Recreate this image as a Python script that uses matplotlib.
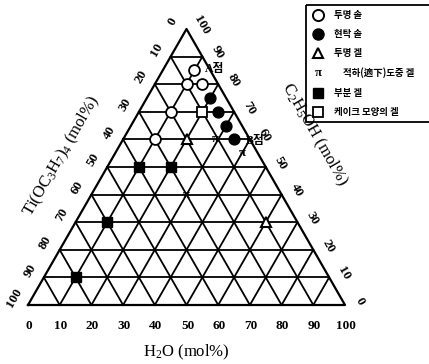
import matplotlib
matplotlib.use("Agg")
import matplotlib.pyplot as plt
from matplotlib.patches import Rectangle

plt.rcParams['mathtext.fontset'] = 'custom'
plt.rcParams['mathtext.rm'] = 'Liberation Serif'
plt.rcParams['mathtext.it'] = 'Liberation Serif'

# compositions in mol% : (C2H5OH, H2O), rest is Ti(OC3H7)4
sol_clear_etoh = [85, 80, 80, 70, 60]
sol_clear_water = [10, 15, 10, 10, 10]
sol_turbid_etoh = [75, 70, 65, 60]
sol_turbid_water = [20, 25, 30, 35]
gel_clear_etoh = [60, 30]
gel_clear_water = [20, 60]
gel_drop_etoh = [60, 55, 40]
gel_drop_water = [29, 40, 30]
gel_part_etoh = [50, 50, 30, 10]
gel_part_water = [10, 20, 10, 10]
gel_cake_etoh = [70]
gel_cake_water = [20]

ticks = [0, 10, 20, 30, 40, 50, 60, 70, 80, 90, 100]
legend_labels = ['투명 솔', '현탁 솔', '투명 겔', '적하(適下)도중 겔', '부분 겔', '케이크 모양의 겔']

# triangle frame in pixels
X0, Y0, W, H = 28, 305, 317, 276


def tern(etoh, water):
    xs = [X0 + W * (w + e / 2) / 100 for e, w in zip(etoh, water)]
    ys = [Y0 - H * e / 100 for e in etoh]
    return xs, ys


fig = plt.figure(figsize=(4.29, 3.64), dpi=100)
ax = fig.add_axes([0, 0, 1, 1])
ax.set_xlim(0, 429)
ax.set_ylim(364, 0)
ax.axis('off')

# grid
for v in ticks[1:-1]:
    for e, w in [([v, v], [0, 100 - v]), ([0, 100 - v], [v, v]), ([0, 100 - v], [100 - v, 0])]:
        xs, ys = tern(e, w)
        ax.plot(xs, ys, color='black', lw=1.3)
xs, ys = tern([0, 0, 100, 0], [0, 100, 0, 0])
ax.plot(xs, ys, color='black', lw=1.6)

serif = 'Liberation Serif'
# bottom ticks (H2O)
for t in ticks:
    xs, ys = tern([0], [t])
    ax.text(xs[0] + 1, 326, str(t), ha='center', va='center', fontsize=9.5,
            fontweight='bold', family=serif)
# left ticks (Ti)
for t in ticks:
    xs, ys = tern([100 - t], [0])
    ax.text(xs[0] - 14, ys[0] - 7, str(t), ha='center', va='center', fontsize=9.5,
            fontweight='bold', family=serif, rotation=60)
# right ticks (EtOH)
for t in ticks:
    xs, ys = tern([t], [100 - t])
    ax.text(xs[0] + 15, ys[0] - 4, str(t), ha='center', va='center', fontsize=9.5,
            fontweight='bold', family=serif, rotation=-60)

ax.text(186, 352, r'H$_2$O (mol%)', ha='center', va='center', fontsize=12, family=serif)
ax.text(62, 156, r'Ti(OC$_3$H$_7$)$_4$ (mol%)', ha='center', va='center', fontsize=12,
        family=serif, rotation=60)
ax.text(314, 134, r'C$_2$H$_5$OH (mol%)', ha='center', va='center', fontsize=12,
        family=serif, rotation=-60)

# data points
xs, ys = tern(sol_clear_etoh, sol_clear_water)
ax.plot(xs, ys, 'o', ms=7.8, mfc='white', mec='black', mew=1.3, ls='none', zorder=5)
xs, ys = tern(sol_turbid_etoh, sol_turbid_water)
ax.plot(xs, ys, 'o', ms=7.8, color='black', ls='none', zorder=5)
xs, ys = tern(gel_clear_etoh, gel_clear_water)
ax.plot(xs, ys, '^', ms=7, mfc='white', mec='black', mew=1.5, ls='none', zorder=5)
xs, ys = tern(gel_drop_etoh, gel_drop_water)
for x, y in zip(xs, ys):
    ax.text(x, y, 'π', ha='center', va='center', fontsize=9, fontweight='bold',
            family=serif, zorder=6)
xs, ys = tern(gel_part_etoh, gel_part_water)
ax.plot(xs, ys, 's', ms=7, color='black', ls='none', zorder=5)
xs, ys = tern(gel_cake_etoh, gel_cake_water)
ax.plot(xs, ys, 's', ms=6.5, mfc='white', mec='black', mew=1.3, ls='none', zorder=5)

pfam = [serif, 'Noto Sans CJK KR']
ax.text(205, 69, 'A점', ha='left', va='center', fontsize=8.5, fontweight='bold', family=pfam)
ax.text(246, 141, 'B점', ha='left', va='center', fontsize=8.5, fontweight='bold', family=pfam)

# legend
ax.add_patch(Rectangle((306, 5), 140, 117, fill=False, ec='black', lw=1.3))
rows = [15, 34, 53, 73, 93, 112]
kfam = ['Noto Sans CJK KR', 'DejaVu Sans']
ax.plot(318, rows[0], 'o', ms=8, mfc='white', mec='black', mew=1.4)
ax.plot(318, rows[1], 'o', ms=8, color='black')
ax.plot(318, rows[2], '^', ms=7.5, mfc='white', mec='black', mew=1.5)
ax.text(318, rows[3], 'π', ha='center', va='center', fontsize=9, fontweight='bold', family=serif)
ax.plot(318, rows[4], 's', ms=7, color='black')
ax.plot(318, rows[5], 's', ms=6.5, mfc='white', mec='black', mew=1.3)
for i, (r, lab) in enumerate(zip(rows, legend_labels)):
    x = 343 if i == 3 else 334
    ax.text(x, r, lab, ha='left', va='center', fontsize=6.8, fontweight='bold', family=kfam)

fig.savefig('out.png', dpi=100)
